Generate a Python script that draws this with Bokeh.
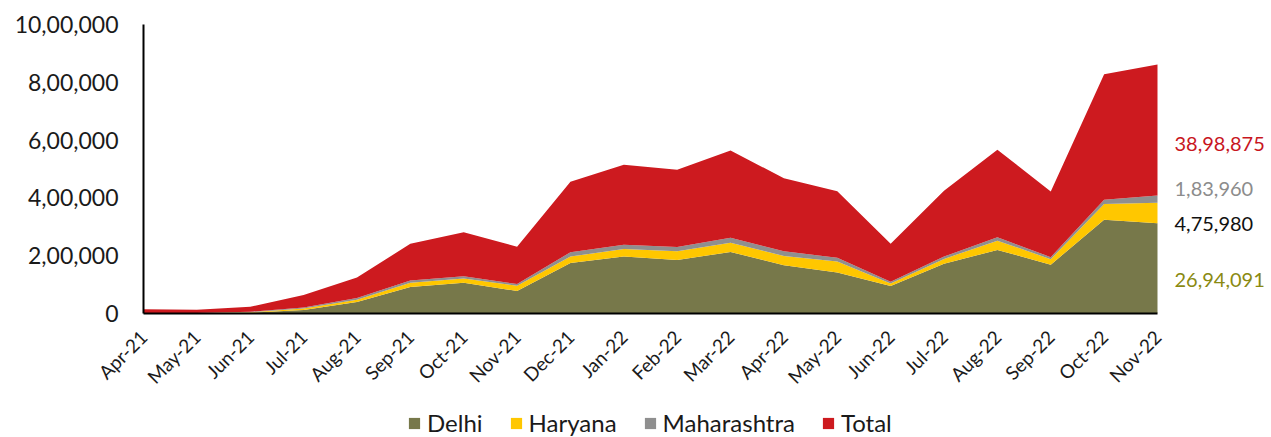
import math
from bokeh.plotting import figure
from bokeh.layouts import column
from bokeh.models import ColumnDataSource, Range1d, FixedTicker, Legend, LegendItem, Label
from bokeh.embed import file_html
from bokeh.resources import INLINE

# ---------------- data ----------------
months = ["Apr-21", "May-21", "Jun-21", "Jul-21", "Aug-21", "Sep-21", "Oct-21", "Nov-21",
          "Dec-21", "Jan-22", "Feb-22", "Mar-22", "Apr-22", "May-22", "Jun-22", "Jul-22",
          "Aug-22", "Sep-22", "Oct-22", "Nov-22"]
delhi = [1000, 1000, 3000, 12000, 40000, 92000, 106000, 78000, 175000, 197000,
         185000, 213000, 167000, 142000, 95000, 172000, 220000, 169000, 324000, 312000]
haryana = [500, 500, 1500, 5000, 8000, 14000, 15000, 18000, 22000, 26000,
           30000, 32000, 32000, 38000, 9000, 17000, 32000, 19000, 55000, 71000]
maharashtra = [500, 500, 1500, 4000, 6000, 8000, 8000, 6000, 15000, 15000,
               15000, 17000, 16000, 13000, 6000, 8000, 12000, 7000, 15000, 25000]
total = [13000, 11000, 17000, 43000, 71000, 127000, 152000, 129000, 244000, 277000,
         267000, 302000, 253000, 230000, 131000, 228000, 303000, 227000, 434000, 454000]
series_names = ["Delhi", "Haryana", "Maharashtra", "Total"]
y_ticks = [0, 200000, 400000, 600000, 800000, 1000000]
y_tick_labels = ["0", "2,00,000", "4,00,000", "6,00,000", "8,00,000", "10,00,000"]
end_labels = ["26,94,091", "4,75,980", "1,83,960", "38,98,875"]

# ---------------- styles ----------------
area_colors = ["#77784A", "#FFC700", "#8F8F8F", "#CD1A1F"]
label_colors = ["#8A8A12", "#111111", "#8C8C8C", "#C8161E"]
label_y = [117000, 308000, 432000, 588000]   # label positions (layout)
FONT = "Lato"
W = 1271

n = len(months)
x = list(range(n))
src = ColumnDataSource(dict(x=x, delhi=delhi, haryana=haryana,
                            maharashtra=maharashtra, total=total))

# frame spans 1128px; the data part (0..n-1) spans 1014px, rest holds the end labels
x_end = (n - 1) * 1128 / 1014
fig = figure(width=W, height=409,
             x_range=Range1d(0, x_end), y_range=Range1d(0, 1000000),
             output_backend="svg", toolbar_location=None,
             min_border_left=143, min_border_right=0,
             min_border_top=24, min_border_bottom=96)

rends = fig.varea_stack(stackers=["delhi", "haryana", "maharashtra", "total"], x="x",
                        color=area_colors, source=src)

fig.outline_line_color = None
fig.xgrid.visible = False
fig.ygrid.visible = False

# y axis
fig.yaxis.ticker = FixedTicker(ticks=y_ticks)
fig.yaxis.major_label_overrides = {t: l for t, l in zip(y_ticks, y_tick_labels)}
fig.yaxis.axis_line_color = "black"
fig.yaxis.axis_line_width = 2
fig.yaxis.major_tick_line_color = None
fig.yaxis.minor_tick_line_color = None
fig.yaxis.major_tick_out = 0
fig.yaxis.major_label_standoff = 25
fig.yaxis.major_label_text_font = FONT
fig.yaxis.major_label_text_font_size = "23px"
fig.yaxis.major_label_text_color = "#1a1a1a"

# x axis
fig.xaxis.ticker = FixedTicker(ticks=x)
fig.xaxis.bounds = (0, n - 1)
fig.xaxis.major_label_overrides = {i: m for i, m in enumerate(months)}
fig.xaxis.major_label_orientation = math.pi / 4
fig.xaxis.axis_line_color = "black"
fig.xaxis.axis_line_width = 2
fig.xaxis.major_tick_line_color = None
fig.xaxis.minor_tick_line_color = None
fig.xaxis.major_tick_out = 0
fig.xaxis.major_label_standoff = 20
fig.xaxis.major_label_text_font = FONT
fig.xaxis.major_label_text_font_size = "19px"
fig.xaxis.major_label_text_color = "#1a1a1a"

# end labels
for txt, yv, col in zip(end_labels, label_y, label_colors):
    fig.add_layout(Label(x=n - 1, y=yv, x_offset=17, text=txt,
                         text_baseline="middle", text_align="left",
                         text_font=FONT, text_font_size="20px", text_color=col))

# legend strip (its frame is aligned with the chart frame by the column layout)
leg = figure(width=W, height=28, x_range=Range1d(0, 1), y_range=Range1d(0, 1),
             output_backend="svg", toolbar_location=None,
             x_axis_type=None, y_axis_type=None, min_border=0)
leg.outline_line_color = None
leg.xgrid.visible = False
leg.ygrid.visible = False
leg_src = ColumnDataSource(dict(x=[0, 1], y=[0, 0]))
leg_rends = [leg.varea(x="x", y1="y", y2="y", color=c, source=leg_src) for c in area_colors]
legend = Legend(items=[LegendItem(label=s, renderers=[r]) for s, r in zip(series_names, leg_rends)],
                orientation="horizontal", location=(264, 0),
                padding=0, margin=0, spacing=26, glyph_width=14, glyph_height=14,
                label_standoff=6, label_text_font=FONT, label_text_font_size="24px",
                label_text_color="#1a1a1a",
                border_line_alpha=0, background_fill_alpha=0)
leg.add_layout(legend)

p = column(fig, leg, spacing=0)
open("out.html", "w").write(file_html(p, INLINE))
